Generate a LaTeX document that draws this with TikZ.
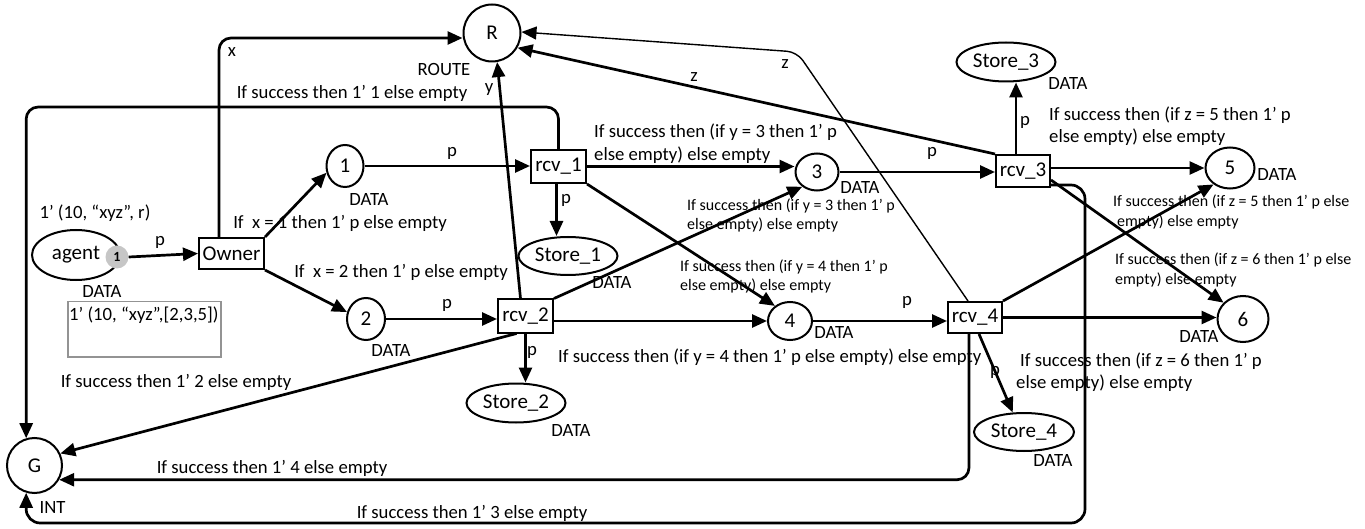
\documentclass[tikz,border=0pt]{standalone}
\usepackage{fontspec}
\setmainfont{Carlito}
\usetikzlibrary{shapes.geometric,arrows.meta}
\newcommand{\fnode}{\fontsize{21}{25}\selectfont}
\newcommand{\flbl}{\fontsize{18.7}{22.5}\selectfont}
\newcommand{\fsml}{\fontsize{16}{19.5}\selectfont}
\begin{document}
\begin{tikzpicture}[x=1pt,y=-1pt,
  plc/.style={ellipse,draw,line width=2pt,inner sep=0pt,font=\fnode,fill=white},
  trn/.style={rectangle,draw,line width=2pt,inner sep=0pt,font=\fnode,fill=white},
  flow/.style={line width=2.7pt,-{Triangle[length=15pt,width=13pt]}},
  thinflow/.style={line width=1.4pt,-{Triangle[length=15pt,width=13pt]}},
  lbl/.style={font=\flbl,inner sep=0pt},
  mlbl/.style={font=\flbl,inner sep=0pt,align=left,anchor=west},
  slbl/.style={font=\fsml,inner sep=0pt,align=left,anchor=west}]
\useasboundingbox (0,0) rectangle (1365,529);

% ---------- places and transitions ----------
\node[plc,minimum width=57pt,minimum height=57pt] (R) at (492,33) {R};
\node[plc,minimum width=55pt,minimum height=55pt] (G) at (34.5,465.5) {G};
\node[plc,minimum width=88pt,minimum height=50pt] (agent) at (76,255) {agent\hspace{4pt}};
\node[circle,fill=gray!45,inner sep=0pt,minimum size=23pt,font=\bfseries\fontsize{14}{14}\selectfont] (tok) at (117,257) {1};
\node[trn,minimum width=65pt,minimum height=31pt] (own) at (231.5,253.5) {Owner};

\node[plc,minimum width=37pt,minimum height=42pt] (P1) at (345,166) {1};
\node[plc,minimum width=38pt,minimum height=42pt] (P2) at (366,319) {2};
\node[plc,minimum width=43pt,minimum height=37pt] (P3) at (817,172) {3};
\node[plc,minimum width=44pt,minimum height=38pt] (P4) at (790,321) {4};
\node[plc,minimum width=49pt,minimum height=41pt] (P5) at (1230,168) {5};
\node[plc,minimum width=51pt,minimum height=46pt] (P6) at (1243,319) {6};

\node[trn,minimum width=55pt,minimum height=33pt] (rcv1) at (558.5,166.5) {rcv\_1};
\node[trn,minimum width=55pt,minimum height=33pt] (rcv2) at (525.5,316) {rcv\_2};
\node[trn,minimum width=54pt,minimum height=32pt] (rcv3) at (1023,171) {rcv\_3};
\node[trn,minimum width=54pt,minimum height=31pt] (rcv4) at (975,317.5) {rcv\_4};

\node[plc,minimum width=99pt,minimum height=38pt] (S1) at (568,256) {Store\_1};
\node[plc,minimum width=99pt,minimum height=39pt] (S2) at (516,403) {Store\_2};
\node[plc,minimum width=99pt,minimum height=39pt] (S3) at (1006,62) {Store\_3};
\node[plc,minimum width=100pt,minimum height=38pt] (S4) at (1024,432) {Store\_4};

% ---------- initial marking box ----------
\node[draw=gray!85,line width=1.5pt,minimum width=153pt,minimum height=55pt,anchor=north west,inner sep=0pt] (mk) at (67,301) {};
\node[lbl,anchor=west] (mkt) at (69,315) {1’ (10, “xyz”,[2,3,5])};

% ---------- arcs ----------
\coordinate (t1) at (0,107);
\coordinate (b3) at (1085,523);
\coordinate (zc) at (797,52);
\coordinate (a1) at ([xshift=-2pt]rcv1.south);
\coordinate (a3) at ([xshift=-7pt]rcv3.north);
\coordinate (a4) at ([xshift=-6pt]rcv4.south);

\draw[flow] (tok.east) -- (own.west);
\draw[flow,rounded corners=12pt] ([xshift=-12.5pt]own.north) |- ([yshift=-5pt]R.west);
\draw[flow] (own.north east) -- (P1.200);
\draw[flow] (own.south east) -- (P2.160);
\draw[flow] (P1.east) -- (P1.east -| rcv1.west);
\draw[flow] (P2.east) -- (P2.east -| rcv2.west);
\draw[flow,rounded corners=12pt] (rcv1.north) |- (G.107 |- t1) -- (G.107);
\draw[flow] (a1) -- (a1 |- S1.north);
\draw[flow] (rcv1.east) -- (rcv1.east -| P3.west);
\draw[flow] (rcv1.south east) -- (P4.135);
\draw[flow] (rcv2.south) -- (rcv2.south |- S2.north);
\draw[flow] (rcv2.north east) -- (P3.225);
\draw[flow] (rcv2.east |- P4.west) -- (P4.west);
\draw[flow] ([xshift=-9pt]rcv2.south) -- (G.25);
\draw[flow] ([xshift=-5pt]rcv2.north) -- (R.280);
\draw[flow] (P3.east) -- (P3.east -| rcv3.west);
\draw[flow] (P4.east) -- (P4.east -| rcv4.west);
\draw[flow] (rcv3.north west) -- (R.330);
\draw[flow] (a3) -- (a3 |- S3.south);
\draw[flow] (rcv3.east |- P5.west) -- (P5.west);
\draw[flow] ([yshift=-9pt]rcv3.east) -- (P6.140);
\draw[flow,rounded corners=14pt] ([yshift=-14pt]rcv3.east) -| (b3) -| (G.253);
\draw[thinflow,rounded corners=10pt] ([xshift=-7pt]rcv4.north) -- (zc) -- (R.2);
\draw[flow,rounded corners=12pt] (a4) |- (G.330);
\draw[flow] ([xshift=4pt]rcv4.south) -- (S4.120);
\draw[flow] (rcv4.north east) -- (P5.225);
\draw[flow] (rcv4.east) -- (rcv4.east -| P6.west);

% ---------- labels ----------
\node[lbl] (l1) at (160,242) {p};
\node[lbl] (l2) at (232,52) {x};
\node[lbl] (l3) at (444,70) {ROUTE};
\node[lbl] (l4) at (352,93) {If success then 1’ 1 else empty};
\node[lbl] (l5) at (489,90) {y};
\node[lbl] (l6) at (694,77) {z};
\node[lbl] (l7) at (785,64) {z};
\node[lbl] (l8) at (95,213) {1’ (10, “xyz”, r)};
\node[lbl] (l9) at (52.5,507) {INT};
\node[lbl] (l10) at (340,223) {If~ x = 1 then 1’ p else empty};
\node[lbl] (l11) at (401,272) {If~ x = 2 then 1’ p else empty};
\node[lbl] (l12) at (452,153) {p};
\node[lbl] (l13) at (447,305) {p};
\node[lbl] (l14) at (566,200) {p};
\node[lbl] (l15) at (532,352) {p};
\node[lbl] (l16) at (1025,122) {p};
\node[lbl] (l17) at (995,372) {p};
\node[lbl] (l18) at (932,153) {p};
\node[lbl] (l19) at (907,302) {p};
\node[lbl] (l20) at (176,382) {If success then 1’ 2 else empty};
\node[lbl] (l21) at (272,468) {If success then 1’ 4 else empty};
\node[lbl] (l22) at (472,513) {If success then 1’ 3 else empty};
\node[lbl,anchor=west] (l23) at (558,357) {If success then (if y = 4 then 1’ p else empty) else empty};
\node[mlbl] (l24) at (594,143.5) {If success then (if y = 3 then 1’ p\\else empty) else empty};
\node[mlbl] (l25) at (1049,126) {If success then (if z = 5 then 1’ p\\else empty) else empty};
\node[mlbl] (l26) at (1016,372) {\hspace{4pt}If success then (if z = 6 then 1’ p\\else empty) else empty};
\node[slbl] (l27) at (687,215.5) {If success then (if y = 3 then 1’ p\\else empty) else empty};
\node[slbl] (l28) at (680,276.5) {If success then (if y = 4 then 1’ p\\else empty) else empty};
\node[slbl] (l29) at (1113,212) {If success then (if z = 5 then 1’ p else\\\hspace{4pt}empty) else empty};
\node[slbl] (l30) at (1115,270) {If success then (if z = 6 then 1’ p else\\empty) else empty};

% DATA / type labels
\node[lbl] (d0) at (102,292) {DATA};
\node[lbl] (d1) at (369,200) {DATA};
\node[lbl] (d2) at (391,350) {DATA};
\node[lbl] (d3) at (860,188) {DATA};
\node[lbl] (d4) at (834,333) {DATA};
\node[lbl] (d5) at (1277,175) {DATA};
\node[lbl] (d6) at (1199,337) {DATA};
\node[lbl] (ds1) at (612,283) {DATA};
\node[lbl] (ds2) at (571,430) {DATA};
\node[lbl] (ds3) at (1068,84) {DATA};
\node[lbl] (ds4) at (1053,460) {DATA};
\end{tikzpicture}
\end{document}
